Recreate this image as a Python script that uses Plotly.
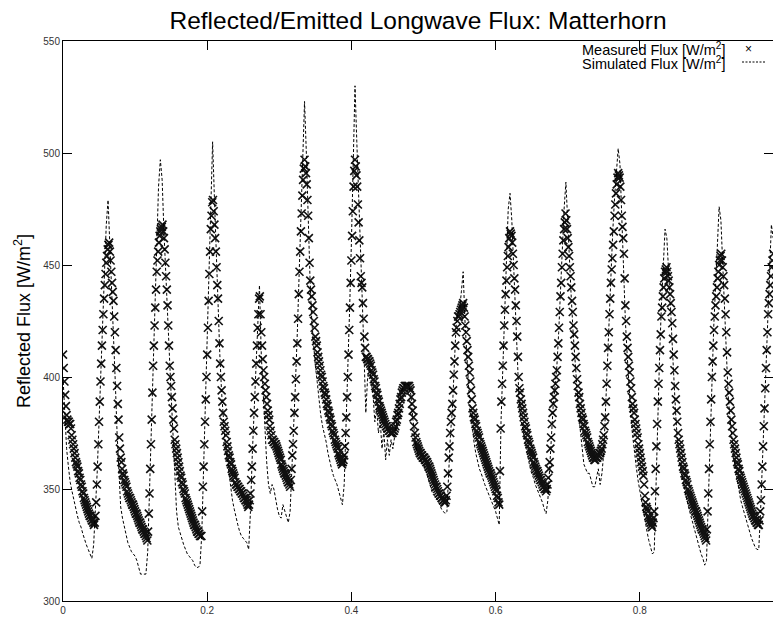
import plotly.graph_objects as go

# ---- data ----
# measured flux, one reading every 0.001 along the x axis (ten per row)
measured_step = 0.001
measured_flux = [
    410, 404, 398, 392, 387, 383, 381, 380, 380, 379,
    379, 377, 374, 372, 370, 368, 366, 364, 362, 361,
    360, 358, 357, 355, 354, 352, 351, 349, 348, 346,
    345, 344, 343, 342, 341, 340, 339, 338, 338, 337,
    336, 336, 335, 334, 335, 338, 344, 352, 360, 370,
    380, 389, 398, 406, 414, 421, 428, 435, 441, 446,
    451, 454, 457, 459, 460, 456, 452, 447, 442, 438,
    434, 427, 420, 412, 404, 396, 388, 381, 373, 368,
    364, 362, 359, 357, 356, 354, 353, 352, 351, 349,
    348, 347, 346, 346, 345, 344, 343, 343, 342, 341,
    340, 339, 339, 338, 337, 336, 335, 335, 334, 333,
    332, 332, 331, 330, 330, 329, 328, 327, 331, 339,
    348, 359, 370, 381, 393, 405, 414, 423, 431, 439,
    447, 452, 456, 460, 463, 465, 466, 467, 468, 465,
    462, 457, 451, 445, 439, 432, 423, 414, 405, 400,
    396, 391, 386, 381, 377, 372, 370, 368, 366, 364,
    362, 360, 358, 356, 355, 353, 352, 350, 349, 348,
    346, 345, 344, 343, 342, 341, 340, 339, 338, 337,
    336, 335, 334, 334, 333, 332, 331, 331, 330, 330,
    329, 329, 329, 340, 351, 360, 370, 380, 390, 400,
    410, 422, 434, 446, 456, 466, 472, 478, 479, 474,
    468, 462, 456, 449, 441, 435, 425, 415, 406, 400,
    394, 389, 384, 380, 378, 376, 374, 371, 369, 367,
    365, 364, 362, 361, 359, 358, 357, 356, 355, 353,
    352, 352, 351, 351, 350, 350, 349, 349, 348, 348,
    347, 346, 346, 345, 345, 344, 343, 342, 343, 345,
    348, 354, 360, 368, 376, 384, 391, 398, 406, 414,
    422, 428, 435, 436, 428, 420, 414, 408, 403, 400,
    397, 394, 391, 388, 385, 383, 381, 378, 376, 374,
    372, 372, 371, 371, 370, 370, 369, 368, 367, 366,
    365, 364, 363, 361, 360, 359, 358, 357, 357, 356,
    355, 354, 353, 353, 352, 351, 354, 359, 365, 370,
    376, 384, 391, 399, 407, 415, 426, 437, 447, 456,
    465, 473, 481, 488, 493, 497, 494, 491, 486, 479,
    472, 462, 451, 443, 439, 436, 432, 429, 425, 422,
    418, 416, 414, 411, 409, 407, 405, 403, 401, 400,
    398, 396, 395, 393, 392, 390, 388, 387, 385, 384,
    382, 381, 379, 378, 376, 375, 374, 372, 371, 370,
    369, 368, 366, 365, 364, 363, 362, 361, 362, 363,
    365, 369, 375, 382, 391, 400, 410, 421, 431, 442,
    452, 463, 474, 485, 492, 497, 494, 490, 485, 477,
    469, 461, 453, 445, 442, 440, 433, 426, 418, 413,
    409, 409, 408, 408, 407, 407, 406, 405, 403, 402,
    401, 399, 398, 396, 395, 393, 392, 390, 389, 387,
    386, 385, 384, 383, 382, 381, 380, 379, 378, 378,
    377, 377, 376, 376, 375, 375, 375, 375, 376, 376,
    377, 378, 380, 381, 383, 384, 386, 388, 390, 391,
    393, 394, 395, 395, 396, 396, 396, 396, 396, 396,
    396, 395, 394, 391, 388, 385, 382, 378, 375, 373,
    371, 370, 369, 368, 367, 366, 366, 365, 365, 364,
    364, 364, 363, 363, 362, 362, 361, 360, 360, 359,
    358, 357, 356, 355, 354, 353, 352, 351, 351, 350,
    349, 348, 348, 347, 347, 346, 346, 345, 345, 344,
    344, 345, 347, 351, 357, 364, 369, 375, 380, 384,
    388, 394, 401, 407, 414, 420, 422, 425, 427, 427,
    428, 429, 430, 431, 432, 433, 431, 427, 423, 420,
    416, 412, 409, 405, 402, 398, 394, 390, 386, 384,
    382, 381, 379, 378, 376, 375, 374, 373, 371, 370,
    369, 368, 367, 366, 365, 364, 363, 362, 361, 360,
    359, 358, 357, 357, 356, 355, 354, 353, 352, 351,
    350, 349, 347, 346, 344, 343, 358, 377, 389, 397,
    405, 414, 423, 430, 437, 443, 449, 454, 458, 462,
    465, 464, 463, 460, 455, 450, 444, 439, 432, 425,
    418, 409, 400, 395, 393, 390, 388, 386, 384, 382,
    380, 378, 377, 375, 374, 372, 371, 370, 368, 367,
    366, 365, 364, 362, 361, 360, 359, 358, 358, 357,
    356, 355, 354, 354, 353, 352, 351, 351, 350, 350,
    349, 350, 352, 355, 359, 362, 368, 373, 379, 384,
    388, 391, 394, 397, 400, 403, 409, 415, 422, 429,
    436, 442, 449, 455, 461, 466, 469, 473, 470, 466,
    462, 458, 454, 449, 445, 440, 434, 429, 423, 419,
    414, 409, 404, 399, 396, 393, 391, 388, 386, 384,
    382, 381, 379, 378, 376, 375, 374, 373, 371, 370,
    369, 368, 367, 366, 365, 364, 364, 363, 363, 364,
    364, 364, 365, 365, 366, 366, 367, 368, 370, 372,
    374, 378, 382, 389, 397, 405, 413, 420, 428, 435,
    442, 448, 453, 459, 465, 472, 477, 482, 486, 489,
    491, 490, 489, 485, 479, 472, 467, 462, 455, 444,
    432, 425, 418, 413, 409, 405, 402, 398, 395, 391,
    388, 386, 384, 381, 379, 377, 375, 373, 370, 368,
    366, 364, 362, 360, 358, 356, 352, 347, 344, 342,
    341, 340, 338, 337, 336, 335, 334, 333, 335, 337,
    340, 349, 359, 369, 379, 389, 397, 404, 412, 419,
    427, 431, 436, 440, 444, 447, 448, 449, 447, 445,
    443, 440, 437, 433, 429, 424, 417, 410, 403, 396,
    390, 385, 380, 375, 372, 370, 368, 366, 364, 362,
    360, 359, 357, 356, 354, 353, 352, 350, 349, 348,
    347, 346, 345, 344, 343, 342, 341, 340, 340, 339,
    338, 337, 336, 335, 334, 333, 332, 332, 331, 330,
    329, 328, 327, 332, 340, 348, 359, 370, 380, 390,
    400, 407, 414, 421, 427, 432, 436, 440, 444, 447,
    450, 452, 454, 455, 452, 449, 445, 441, 435, 428,
    420, 411, 402, 397, 393, 389, 385, 381, 378, 375,
    372, 370, 368, 366, 364, 362, 361, 359, 358, 356,
    355, 354, 353, 352, 351, 350, 349, 348, 347, 346,
    345, 344, 343, 342, 341, 340, 339, 338, 338, 337,
    336, 336, 335, 335, 334, 334, 336, 340, 345, 352,
    360, 369, 378, 386, 395, 404, 412, 420, 428, 433,
    437, 441, 445, 449, 452, 455,
]

# simulated flux, one value every 0.0025 along the x axis
simulated_step = 0.0025
simulated_flux = [
    400, 385, 368, 360, 353, 349, 345, 341, 338, 335, 333, 330, 327, 325, 323, 321, 319, 325, 340, 358,
    380, 402, 424, 445, 468, 479, 460, 440, 420, 398, 375, 355, 342, 337, 333, 329, 326, 324, 322, 321,
    320, 318, 315, 312, 312, 312, 312, 322, 350, 378, 408, 438, 465, 485, 497, 488, 465, 445, 425, 405,
    392, 375, 358, 340, 333, 330, 327, 325, 323, 321, 320, 319, 318, 316, 315, 315, 316, 330, 360, 390,
    420, 450, 480, 505, 480, 455, 430, 410, 393, 380, 370, 364, 357, 350, 345, 341, 337, 334, 331, 329,
    328, 327, 326, 323, 340, 365, 385, 405, 425, 441, 410, 390, 378, 362, 352, 348, 352, 350, 345, 341,
    338, 337, 343, 340, 337, 335, 340, 358, 376, 398, 420, 448, 475, 502, 523, 500, 470, 445, 425, 413,
    405, 398, 390, 383, 378, 375, 371, 366, 362, 359, 356, 354, 352, 349, 346, 343, 352, 375, 400, 430,
    460, 490, 530, 505, 478, 455, 435, 410, 384, 400, 405, 398, 392, 380, 386, 375, 380, 368, 376, 363,
    372, 365, 372, 368, 374, 378, 384, 390, 394, 396, 397, 397, 396, 392, 382, 374, 368, 365, 364, 362,
    361, 359, 356, 353, 350, 348, 347, 346, 345, 343, 341, 340, 339, 340, 360, 375, 385, 405, 422, 428,
    430, 438, 447, 425, 408, 396, 386, 378, 371, 366, 362, 359, 357, 354, 352, 350, 348, 346, 344, 342,
    340, 337, 334, 380, 405, 432, 455, 475, 482, 470, 450, 432, 410, 390, 382, 376, 372, 368, 363, 360,
    357, 355, 352, 350, 348, 346, 344, 341, 339, 345, 360, 375, 388, 396, 405, 420, 440, 458, 475, 487,
    468, 450, 435, 420, 408, 395, 385, 376, 367, 361, 359, 357, 357, 354, 351, 351, 356, 359, 352, 357,
    366, 385, 410, 430, 450, 465, 480, 492, 502, 495, 470, 450, 425, 410, 395, 383, 374, 366, 360, 354,
    349, 344, 339, 334, 331, 327, 324, 321, 322, 355, 388, 410, 432, 450, 466, 462, 448, 432, 414, 396,
    382, 370, 362, 357, 353, 349, 346, 342, 339, 336, 333, 329, 326, 323, 321, 319, 316, 318, 345, 375,
    400, 422, 440, 458, 476, 470, 450, 430, 408, 392, 382, 373, 365, 359, 354, 349, 345, 342, 339, 336,
    333, 330, 328, 326, 324, 323, 323, 340, 360, 384, 406, 428, 448, 468, 462,
]

measured_x = [i * measured_step for i in range(len(measured_flux))]
simulated_x = [i * simulated_step for i in range(len(simulated_flux))]

x_ticks = [0, 0.2, 0.4, 0.6, 0.8]
x_tick_labels = ["0", "0.2", "0.4", "0.6", "0.8"]
y_ticks = [300, 350, 400, 450, 500, 550]
y_tick_labels = ["300", "350", "400", "450", "500", "550"]

title_text = "Reflected/Emitted Longwave Flux: Matterhorn"
y_title = "Reflected Flux [W/m<sup>2</sup>]"
measured_name = "Measured Flux [W/m<sup>2</sup>]"
simulated_name = "Simulated Flux [W/m<sup>2</sup>]"

FONT = "Liberation Sans, Arial, Helvetica, sans-serif"

fig = go.Figure()
fig.add_trace(go.Scatter(
    x=measured_x, y=measured_flux, mode="markers", name=measured_name,
    marker=dict(symbol="x-thin-open", size=8, color="#111111", line=dict(width=1.6, color="#111111")),
))
fig.add_trace(go.Scatter(
    x=simulated_x, y=simulated_flux, mode="lines", name=simulated_name,
    line=dict(color="black", width=1, dash="3px,2px"),
))

W, H = 773, 621
L, R, T, B = 63, 0, 41, 20
pw, ph = W - L - R, H - T - B

def px_x(p):
    return (p - L) / pw

def px_y(p):
    return (H - B - p) / ph

fig.update_layout(
    width=W, height=H,
    margin=dict(l=L, r=R, t=T, b=B, pad=0),
    paper_bgcolor="white", plot_bgcolor="white",
    showlegend=False,
    font=dict(family=FONT, color="black"),
    title=dict(text=title_text, x=0.5, xref="paper", xanchor="center",
               y=1 - 20 / H, yanchor="middle", yref="container",
               font=dict(family=FONT, size=24.5, color="black")),
    xaxis=dict(range=[0, (W - L) / 721.0], tickvals=x_ticks, ticktext=x_tick_labels,
               showgrid=False, zeroline=False, showline=True, linecolor="black", linewidth=1,
               mirror="ticks", ticks="inside", ticklen=9, tickcolor="black", automargin=False,
               tickfont=dict(family=FONT, size=10, color="#333333")),
    yaxis=dict(range=[300, 550], tickvals=y_ticks, ticktext=y_tick_labels,
               showgrid=False, zeroline=False, showline=True, linecolor="black", linewidth=1,
               mirror="ticks", ticks="inside", ticklen=9, tickcolor="black", automargin=False,
               tickfont=dict(family=FONT, size=10, color="#333333")),
    annotations=[
        dict(text=y_title, textangle=-90, xref="paper", yref="paper",
             x=px_x(22), y=0.5, xanchor="center", yanchor="middle", showarrow=False,
             font=dict(family=FONT, size=18, color="black")),
        dict(text=measured_name, xref="paper", yref="paper", x=px_x(727), y=px_y(49),
             xanchor="right", yanchor="middle", showarrow=False,
             font=dict(family=FONT, size=14.5, color="black")),
        dict(text=simulated_name, xref="paper", yref="paper", x=px_x(727), y=px_y(63),
             xanchor="right", yanchor="middle", showarrow=False,
             font=dict(family=FONT, size=14.5, color="black")),
        dict(text="×", xref="paper", yref="paper", x=px_x(748), y=px_y(49),
             xanchor="center", yanchor="middle", showarrow=False,
             font=dict(family=FONT, size=12, color="black")),
    ],
    shapes=[
        dict(type="line", xref="paper", yref="paper", x0=px_x(742), x1=px_x(765),
             y0=px_y(62), y1=px_y(62), line=dict(color="black", width=1, dash="2px,1.5px")),
    ],
)

fig.write_html("out.html", config={"displayModeBar": False},
               post_script="document.body.style.margin='0px';")
